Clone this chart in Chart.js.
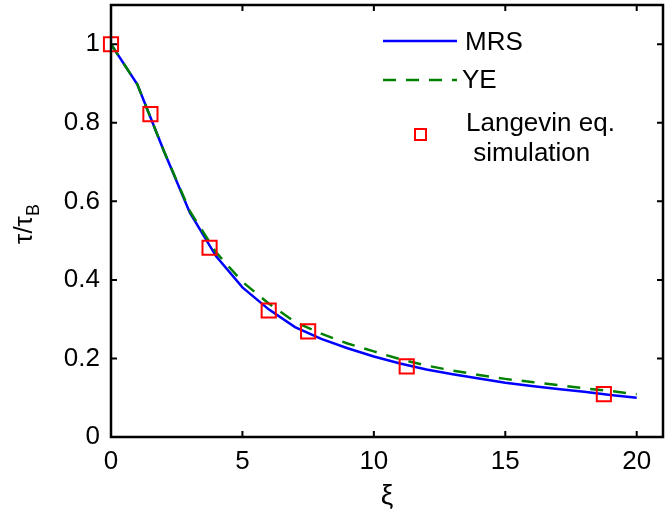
<!DOCTYPE html>
<html>
<head>
<meta charset="utf-8">
<script src="https://cdn.jsdelivr.net/npm/chart.js@4/dist/chart.umd.min.js"></script>
<style>
  html, body { margin: 0; padding: 0; background: #fff; }
  #wrap { width: 668px; height: 517px; position: relative; }
</style>
</head>
<body>
<div id="wrap"><canvas id="chart-tau"></canvas></div>
<script>
// grid of xi values for the two theory curves
const xiGrid = [0, 1, 2, 3, 4, 5, 6, 7, 8, 9, 10, 11, 12, 13, 14, 15, 16, 17, 18, 19, 20];
const mrsValues = [1, 0.898, 0.73, 0.571, 0.46, 0.381, 0.325, 0.28, 0.25, 0.226, 0.205, 0.187, 0.172, 0.16, 0.149, 0.138, 0.13, 0.122, 0.115, 0.107, 0.1];
const yeValues = [1, 0.898, 0.73, 0.575, 0.47, 0.395, 0.34, 0.293, 0.263, 0.238, 0.218, 0.198, 0.182, 0.169, 0.158, 0.148, 0.14, 0.132, 0.124, 0.117, 0.109];

// Langevin simulation points
const simXi = [0, 1.5, 3.75, 6, 7.5, 11.25, 18.75];
const simTau = [1, 0.822, 0.482, 0.322, 0.269, 0.18, 0.109];

const xTicks = [0, 5, 10, 15, 20];
const yTicks = [0, 0.2, 0.4, 0.6, 0.8, 1];
const yTickLabels = ['0', '0.2', '0.4', '0.6', '0.8', '1'];

const FONT = '"Liberation Sans", Arial, Helvetica, sans-serif';
const BLUE = '#0000ff';
const GREEN = '#008000';
const RED = '#ff0000';

const pts = (xs, ys) => xs.map((x, i) => ({ x: x, y: ys[i] }));

// box, inward ticks, axis titles and legend
const frame = {
  id: 'frame',
  afterDraw(chart) {
    const { ctx, chartArea: a, scales } = chart;
    const xs = scales.x, ys = scales.y;
    const tl = 6;
    ctx.save();
    ctx.strokeStyle = '#000';
    ctx.lineWidth = 2.5;
    ctx.strokeRect(a.left, a.top, a.right - a.left, a.bottom - a.top);
    ctx.lineWidth = 2;
    ctx.beginPath();
    for (const v of xTicks) {
      const px = xs.getPixelForValue(v);
      ctx.moveTo(px, a.bottom); ctx.lineTo(px, a.bottom - tl);
      ctx.moveTo(px, a.top); ctx.lineTo(px, a.top + tl);
    }
    for (const v of yTicks) {
      const py = ys.getPixelForValue(v);
      ctx.moveTo(a.left, py); ctx.lineTo(a.left + tl, py);
      ctx.moveTo(a.right, py); ctx.lineTo(a.right - tl, py);
    }
    ctx.stroke();

    // axis titles
    ctx.fillStyle = '#000';
    ctx.textBaseline = 'middle';
    ctx.textAlign = 'center';
    ctx.font = '28px ' + FONT;
    ctx.fillText('ξ', (a.left + a.right) / 2, 496);

    ctx.save();
    ctx.translate(25, 224);
    ctx.rotate(-Math.PI / 2);
    ctx.textAlign = 'left';
    ctx.font = '26px ' + FONT;
    const main = 'τ/τ';
    const w = ctx.measureText(main).width;
    ctx.fillText(main, -w / 2 - 6, 0);
    ctx.font = '18px ' + FONT;
    ctx.fillText('B', w / 2 - 6, 9);
    ctx.restore();

    // legend
    ctx.font = '26px ' + FONT;
    ctx.textAlign = 'left';
    ctx.lineWidth = 2.5;
    ctx.strokeStyle = BLUE;
    ctx.beginPath(); ctx.moveTo(383, 41); ctx.lineTo(457, 41); ctx.stroke();
    ctx.fillText('MRS', 465, 43);
    ctx.strokeStyle = GREEN;
    ctx.setLineDash([13, 10]);
    ctx.beginPath(); ctx.moveTo(383, 80); ctx.lineTo(457, 80); ctx.stroke();
    ctx.setLineDash([]);
    ctx.fillText('YE', 462, 81);
    ctx.strokeStyle = RED;
    ctx.lineWidth = 2;
    ctx.strokeRect(415, 129, 11, 11);
    ctx.fillText('Langevin eq.', 466, 124);
    ctx.fillText(' simulation', 466, 154);
    ctx.restore();
  }
};

new Chart(document.getElementById('chart-tau'), {
  type: 'scatter',
  data: {
    datasets: [
      {
        label: 'Langevin eq. simulation',
        data: pts(simXi, simTau),
        showLine: false,
        pointStyle: 'rect',
        pointRadius: 10,
        pointBorderWidth: 2,
        pointBorderColor: RED,
        pointBackgroundColor: 'rgba(0,0,0,0)',
        clip: false,
        order: 0
      },
      {
        label: 'YE',
        data: pts(xiGrid, yeValues),
        showLine: true,
        borderColor: GREEN,
        borderWidth: 2.5,
        borderDash: [13, 10],
        pointRadius: 0,
        tension: 0,
        order: 1
      },
      {
        label: 'MRS',
        data: pts(xiGrid, mrsValues),
        showLine: true,
        borderColor: BLUE,
        borderWidth: 2.5,
        pointRadius: 0,
        tension: 0,
        order: 2
      }
    ]
  },
  options: {
    responsive: true,
    maintainAspectRatio: false,
    animation: false,
    layout: { autoPadding: false, padding: { left: 0, top: 5, right: 5, bottom: 0 } },
    plugins: { legend: { display: false }, tooltip: { enabled: false } },
    scales: {
      x: {
        type: 'linear',
        min: 0, max: 21,
        afterFit: s => { s.height = 80; s.paddingLeft = 0; s.paddingRight = 0; },
        afterBuildTicks: s => { s.ticks = xTicks.map(v => ({ value: v })); },
        grid: { display: false, drawTicks: false },
        border: { display: false },
        ticks: { color: '#000', padding: 9, maxRotation: 0, font: { family: FONT, size: 26 } }
      },
      y: {
        type: 'linear',
        min: 0, max: 1.1,
        afterFit: s => { s.width = 111; s.paddingTop = 0; s.paddingBottom = 0; },
        afterBuildTicks: s => { s.ticks = yTicks.map(v => ({ value: v })); },
        grid: { display: false, drawTicks: false },
        border: { display: false },
        ticks: {
          color: '#000', padding: 11, font: { family: FONT, size: 26 },
          callback: (v) => yTickLabels[yTicks.indexOf(v)]
        }
      }
    }
  },
  plugins: [frame]
});
</script>
</body>
</html>
